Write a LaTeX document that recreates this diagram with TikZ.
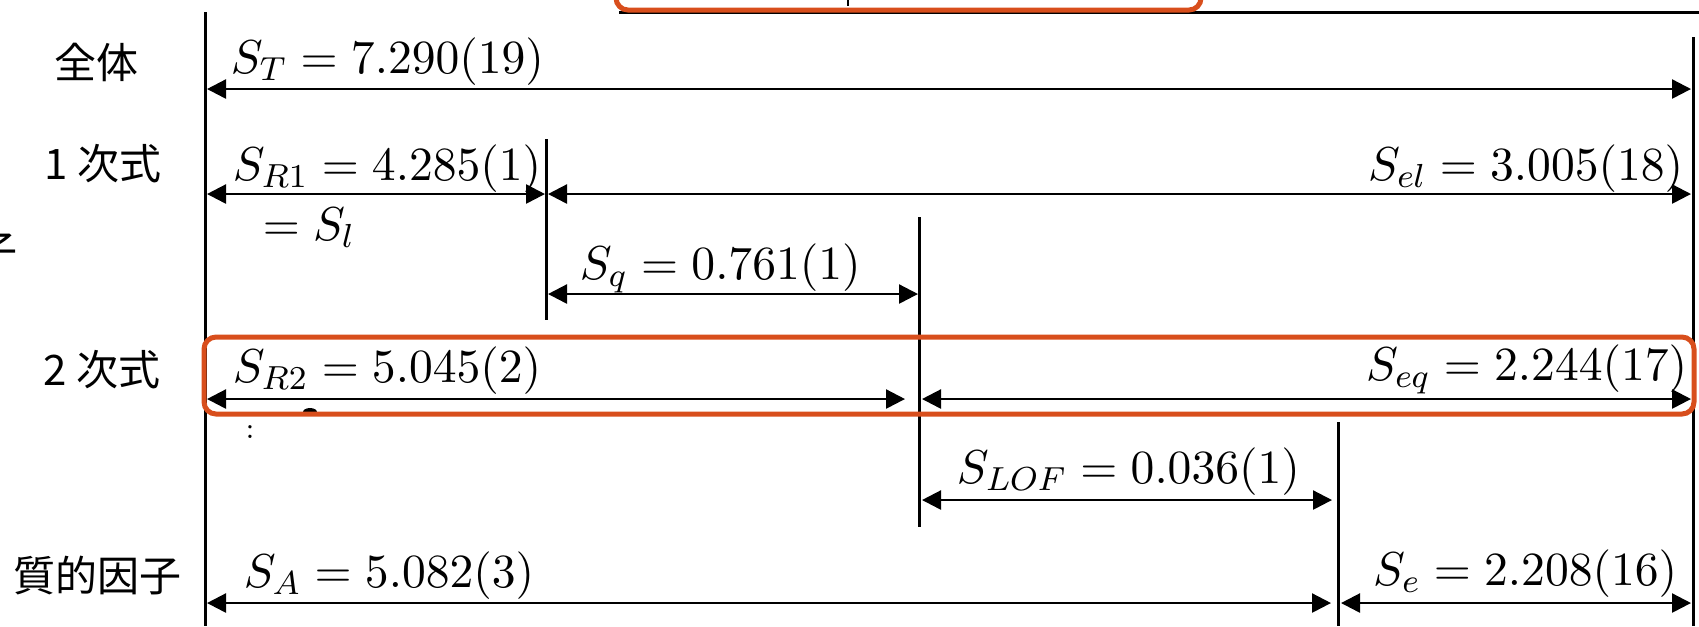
\RequirePackage{fix-cm}
\documentclass[tikz,border=0pt]{standalone}
\usepackage{fontspec}
\newfontfamily\cjk{Noto Sans CJK JP}
\usetikzlibrary{arrows.meta}
\definecolor{hl}{RGB}{216,78,28}
\tikzset{
  vline/.style={line width=0.75pt},
  dim/.style={line width=0.6pt,
    {Triangle[length=4.75pt,width=4.75pt]}-{Triangle[length=4.75pt,width=4.75pt]}},
  val/.style={inner sep=0pt, font=\fontsize{11.9}{13.5}\selectfont},
  cat/.style={inner sep=0pt, font=\fontsize{10.5}{12}\selectfont\cjk},
  hlbox/.style={draw=hl, line width=1.25pt, rounded corners=3pt},
}
\begin{document}
\begin{tikzpicture}[x=0.25pt,y=-0.25pt]
\useasboundingbox (0,0) rectangle (1699,626);
\clip (0,0) rectangle (1699,626);

% clipped remains at the top
\draw[line width=0.7pt] (619,12.7) -- (1699,12.7);
\draw[line width=0.5pt] (848,-5) -- (848,6);
\draw[hlbox] (616,-60) rectangle (1201,10);

% clipped character at left edge
\node[cat] (frag) at (-3,252) {子};

% vertical lines
\coordinate (L0t) at (205,12);   \coordinate (L0b) at (205,626);
\coordinate (L1t) at (546,139);  \coordinate (L1b) at (546,320);
\coordinate (L2t) at (919,217);  \coordinate (L2b) at (919,527);
\coordinate (L3t) at (1338,422); \coordinate (L3b) at (1338,626);
\coordinate (L4t) at (1693,37);  \coordinate (L4b) at (1693,626);
\foreach \l in {L0,L1,L2,L3,L4} \draw[vline] (\l t) -- (\l b);

% category labels
\node[cat] (c1) at (96,62) {全体};
\node[cat] (c2) at (103,164) {1 次式};
\node[cat] (c3) at (102,370) {2 次式};
\node[cat] (c4) at (97,575) {質的因子};

% arrow end points
\coordinate (a1) at (207,89);   \coordinate (a2) at (1691,89);
\coordinate (b1) at (207,194);  \coordinate (b2) at (545,194);
\coordinate (b3) at (548,194);  \coordinate (b4) at (1691,194);
\coordinate (q1) at (548,294);  \coordinate (q2) at (918,294);
\coordinate (r1) at (207,399);  \coordinate (r2) at (905,399);
\coordinate (r3) at (922,399);  \coordinate (r4) at (1691,399);
\coordinate (f1) at (922,500);  \coordinate (f2) at (1332,500);
\coordinate (s1) at (207,603);  \coordinate (s2) at (1331,603);
\coordinate (s3) at (1341,603); \coordinate (s4) at (1691,603);

\draw[dim] (a1) -- (a2);
\draw[dim] (b1) -- (b2);
\draw[dim] (b3) -- (b4);
\draw[dim] (q1) -- (q2);
\draw[dim] (r1) -- (r2);
\draw[dim] (r3) -- (r4);
\draw[dim] (f1) -- (f2);
\draw[dim] (s1) -- (s2);
\draw[dim] (s3) -- (s4);

% value labels
\node[val, anchor=base west] (vT) at (230,73) {$S_T = 7.290(19)$};
\node[val, anchor=base west] (vR1) at (232,180) {$S_{R1} = 4.285(1)$};
\node[val, anchor=base east] (vel) at (1684,180) {$S_{el} = 3.005(18)$};
\node[val, anchor=base west] (vl) at (262,240) {$= S_l$};
\node[val, anchor=base west] (vq) at (579,279) {$S_q = 0.761(1)$};
\node[val, anchor=base west] (vR2) at (232,382) {$S_{R2} = 5.045(2)$};
\node[val, anchor=base east] (veq) at (1688,380) {$S_{eq} = 2.244(17)$};
\node[val, anchor=base west] (vLOF) at (956,483) {$S_{LOF} = 0.036(1)$};
\node[val, anchor=base west] (vA) at (243,587) {$S_A = 5.082(3)$};
\node[val, anchor=base east] (ve) at (1678,585) {$S_e = 2.208(16)$};

% small remnants below the highlighted row
\fill (303,412) arc[start angle=180,end angle=360,x radius=7,y radius=4] -- cycle;
\node[inner sep=0pt, font=\fontsize{7.5}{8}\selectfont] (dots) at (250,432) {:};

% highlight box
\draw[hlbox] (204,337) rectangle (1694,414);
\end{tikzpicture}
\end{document}
